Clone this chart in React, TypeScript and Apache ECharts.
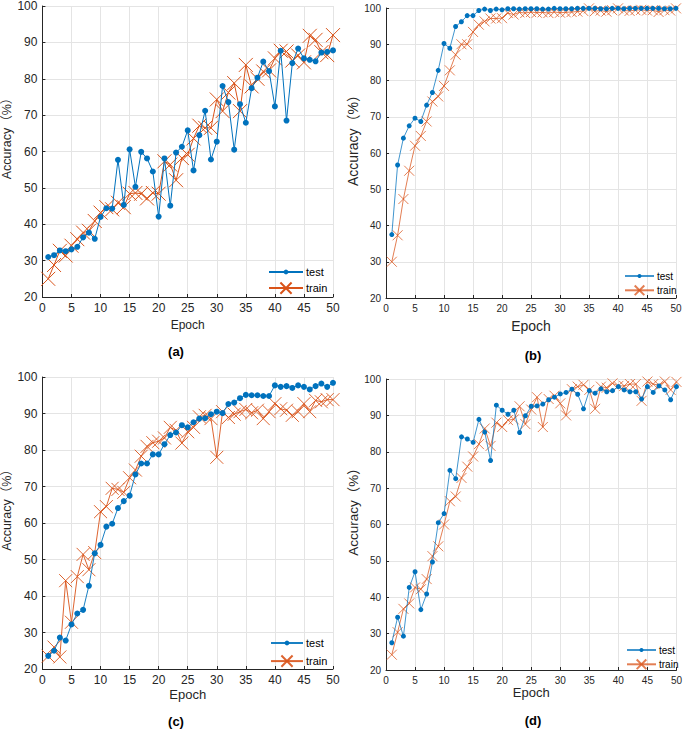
import React, { useEffect, useRef } from 'react';
import * as echarts from 'echarts';

const epochs = [1, 2, 3, 4, 5, 6, 7, 8, 9, 10, 11, 12, 13, 14, 15, 16, 17, 18, 19, 20, 21, 22, 23, 24, 25, 26, 27, 28, 29, 30, 31, 32, 33, 34, 35, 36, 37, 38, 39, 40, 41, 42, 43, 44, 45, 46, 47, 48, 49, 50];
const xTicks = { min: 0, max: 50, interval: 5 };
const yTicks = { min: 20, max: 100, interval: 10 };

const testA = [31.0, 31.5, 32.8, 32.6, 33.1, 33.8, 36.4, 37.7, 36.0, 42.0, 44.4, 44.3, 57.7, 45.3, 60.6, 50.3, 59.9, 58.1, 54.5, 42.1, 58.1, 45.1, 59.7, 61.3, 65.8, 54.8, 64.5, 71.2, 57.8, 62.7, 78.0, 73.6, 60.5, 73.0, 67.9, 77.4, 80.3, 84.7, 82.1, 72.4, 87.7, 68.5, 84.3, 88.3, 85.6, 85.2, 84.8, 87.2, 87.4, 87.8];
const trainA = [25.0, 28.8, 32.7, 31.4, 34.1, 35.9, 37.7, 38.2, 40.9, 43.2, 44.7, 44.1, 45.9, 44.7, 48.4, 48.6, 48.4, 47.1, 48.6, 48.4, 57.3, 56.4, 52.1, 58.2, 59.1, 63.6, 67.1, 66.5, 66.5, 74.3, 71.1, 76.2, 78.8, 71.1, 83.8, 77.9, 80.0, 82.0, 82.3, 85.6, 87.7, 87.5, 85.0, 86.4, 84.5, 91.8, 90.7, 87.3, 86.5, 92.0];

const testB = [37.5, 56.7, 64.1, 67.5, 69.6, 68.7, 73.2, 76.7, 82.8, 90.2, 88.9, 94.9, 96.2, 97.9, 97.9, 99.3, 99.7, 99.3, 99.7, 99.5, 99.8, 99.8, 99.7, 99.8, 99.8, 99.8, 99.7, 99.7, 99.9, 99.8, 99.8, 99.8, 99.9, 99.9, 99.9, 99.9, 99.8, 99.8, 99.9, 99.9, 99.8, 99.9, 99.9, 99.9, 99.9, 99.9, 99.9, 99.8, 99.8, 99.9];
const trainB = [30.0, 37.3, 47.3, 55.1, 62.0, 64.7, 68.7, 74.2, 75.6, 78.5, 82.8, 87.1, 90.0, 90.0, 93.4, 95.4, 96.3, 97.1, 97.1, 97.2, 98.6, 98.2, 98.8, 98.6, 98.9, 98.7, 98.8, 98.6, 98.9, 98.7, 98.8, 98.9, 99.0, 99.2, 99.9, 99.1, 99.3, 99.0, 99.4, 99.9, 99.3, 99.2, 99.4, 99.5, 99.3, 99.4, 98.9, 99.4, 99.3, 99.9];

const testC = [23.6, 25.0, 28.6, 27.8, 32.2, 35.2, 36.2, 42.8, 51.7, 54.0, 59.0, 59.8, 64.1, 66.0, 67.5, 73.3, 76.3, 76.3, 78.8, 78.8, 81.6, 84.1, 84.8, 86.8, 86.2, 87.6, 88.6, 88.7, 89.8, 90.5, 90.1, 92.6, 93.0, 94.2, 95.1, 95.0, 95.0, 94.8, 94.8, 97.7, 97.3, 97.5, 97.0, 97.7, 97.3, 96.6, 97.5, 98.2, 97.3, 98.4];
const trainC = [23.5, 26.0, 23.3, 44.2, 32.8, 45.3, 51.4, 47.2, 51.9, 63.1, 64.5, 69.5, 69.2, 68.4, 72.4, 74.5, 78.3, 81.0, 82.0, 82.4, 83.3, 86.2, 85.4, 81.9, 85.0, 86.2, 89.1, 89.5, 88.6, 78.0, 90.5, 88.9, 89.8, 90.5, 91.1, 90.2, 90.9, 88.6, 90.5, 92.7, 91.3, 90.9, 89.5, 90.5, 92.7, 90.5, 93.6, 93.2, 93.8, 93.8];

const testD = [27.5, 34.5, 29.3, 42.7, 47.0, 36.6, 40.9, 49.7, 60.5, 63.0, 74.9, 72.6, 84.1, 83.5, 82.6, 88.9, 85.4, 77.6, 92.8, 91.4, 90.3, 91.4, 85.3, 89.9, 92.5, 92.6, 93.1, 94.3, 95.0, 95.9, 96.3, 97.2, 95.8, 91.8, 96.8, 96.1, 97.3, 96.5, 96.8, 97.9, 97.0, 96.5, 96.5, 94.5, 97.9, 96.3, 98.1, 97.0, 94.3, 97.9];
const trainD = [24.2, 30.4, 36.8, 38.3, 42.7, 42.2, 45.0, 51.3, 54.0, 60.0, 66.4, 67.7, 72.8, 75.9, 78.7, 82.1, 86.4, 81.6, 88.0, 86.8, 88.7, 88.9, 92.5, 87.6, 91.6, 95.0, 86.8, 94.5, 95.4, 93.3, 90.0, 97.2, 97.9, 98.4, 97.0, 91.8, 97.9, 97.6, 98.8, 98.1, 98.1, 98.6, 98.6, 94.0, 99.3, 98.6, 98.3, 99.3, 97.0, 99.2];

const panelLabels = ['(a)', '(b)', '(c)', '(d)'];
const legendNames = ['test', 'train'];
const xName = 'Epoch';
const yName = 'Accuracy（%）';

const FONT = '"Liberation Sans", Arial, Helvetica, "Noto Sans CJK SC", sans-serif';
const BLUE = '#0072BD';
const ORANGE = '#D95319';
const CROSS = 'path://M0,0L10,10M10,0L0,10';

const layouts = [
  { grid: { left: 39, top: 3, width: 294, height: 294 }, tick: 12, xNameSize: 12, yNameSize: 12.5, xGap: 22, yGap: 25, dot: 6, cross: 14, op: 1,
    lg: { left: 268, w: 34, font: 11, tTop: 266.5, rTop: 280, rH: 14 }, lab: [176, 351] },
  { grid: { left: 386, top: 8, width: 290, height: 290 }, tick: 10, xNameSize: 14, yNameSize: 14, xGap: 21, yGap: 20, dot: 5, cross: 10, op: 0.75,
    lg: { left: 624, w: 29, font: 10, tTop: 271, rTop: 283, rH: 12 }, lab: [533, 355] },
  { grid: { left: 39, top: 377, width: 294, height: 292 }, tick: 12, xNameSize: 13, yNameSize: 12.5, xGap: 19, yGap: 25, dot: 6, cross: 13, op: 0.9,
    lg: { left: 270, w: 32, font: 11, tTop: 637.5, rTop: 653, rH: 14 }, lab: [176, 721] },
  { grid: { left: 386, top: 379, width: 293, height: 291 }, tick: 10, xNameSize: 13, yNameSize: 13.5, xGap: 14, yGap: 20, dot: 5, cross: 10, op: 0.75,
    lg: { left: 626, w: 29, font: 10, tTop: 645, rTop: 657, rH: 12 }, lab: [533, 720] },
];

const seriesData = [
  [testA, trainA],
  [testB, trainB],
  [testC, trainC],
  [testD, trainD],
];

export default function App() {
  const ref = useRef<HTMLDivElement>(null);
  useEffect(() => {
    if (!ref.current) return;
    const chart = echarts.init(ref.current, null, { renderer: 'svg' });
    const grid: any[] = [];
    const xAxis: any[] = [];
    const yAxis: any[] = [];
    const series: any[] = [];
    const legend: any[] = [];
    const graphic: any[] = [];
    layouts.forEach((L, i) => {
      grid.push({ ...L.grid, containLabel: false });
      const pad = ' '.repeat(i);
      const tName = legendNames[0] + pad;
      const rName = legendNames[1] + pad;
      xAxis.push({
        type: 'value', gridIndex: i, ...xTicks,
        name: xName, nameLocation: 'middle', nameGap: L.xGap,
        nameTextStyle: { fontFamily: FONT, fontSize: L.xNameSize, color: '#262626' },
        axisLine: { show: true, onZero: false, lineStyle: { color: '#262626', width: 1 } },
        axisTick: { show: true, inside: true, length: 3, lineStyle: { color: '#262626' } },
        axisLabel: { fontFamily: FONT, fontSize: L.tick, color: '#262626', margin: 5 },
        splitLine: { show: true, lineStyle: { color: '#e4e4e4', width: 1 } },
      });
      yAxis.push({
        type: 'value', gridIndex: i, ...yTicks,
        name: yName, nameLocation: 'middle', nameGap: L.yGap, nameRotate: 90,
        nameTextStyle: { fontFamily: FONT, fontSize: L.yNameSize, color: '#262626', padding: [0, 0, 0, 32] },
        axisLine: { show: true, lineStyle: { color: '#262626', width: 1 } },
        axisTick: { show: true, inside: true, length: 3, lineStyle: { color: '#262626' } },
        axisLabel: { fontFamily: FONT, fontSize: L.tick, color: '#262626', margin: 5 },
        splitLine: { show: true, lineStyle: { color: '#e4e4e4', width: 1 } },
      });
      const [tv, rv] = seriesData[i];
      series.push({
        type: 'line', name: tName, xAxisIndex: i, yAxisIndex: i,
        data: epochs.map((e, k) => [e, tv[k]]),
        symbol: 'circle', symbolSize: L.dot, showSymbol: true,
        lineStyle: { color: BLUE, width: 1, opacity: L.op },
        itemStyle: { color: BLUE, borderWidth: 0 },
        z: 3,
      });
      series.push({
        type: 'line', name: rName, xAxisIndex: i, yAxisIndex: i,
        data: epochs.map((e, k) => [e, rv[k]]),
        symbol: CROSS, symbolSize: L.cross, showSymbol: true,
        lineStyle: { color: ORANGE, width: 1, opacity: L.op },
        itemStyle: { color: 'none', borderColor: ORANGE, borderWidth: 1, opacity: L.op },
        z: 2,
      });
      const lgBase = {
        orient: 'vertical', left: L.lg.left, itemWidth: L.lg.w, itemGap: 0, padding: 0,
        formatter: (n: string) => n.trim(), selectedMode: false,
        textStyle: { fontFamily: FONT, fontSize: L.lg.font, color: '#000', padding: [0, 0, 0, -2] },
      };
      legend.push({ ...lgBase, data: [tName], top: L.lg.tTop, itemHeight: L.dot });
      legend.push({ ...lgBase, data: [rName], top: L.lg.rTop, itemHeight: L.lg.rH });
      graphic.push({
        type: 'text', x: L.lab[0], y: L.lab[1],
        style: { text: panelLabels[i], fontFamily: FONT, fontSize: 13, fontWeight: 'bold', fill: '#000', textAlign: 'center', textVerticalAlign: 'middle' },
      });
    });
    chart.setOption({
      animation: false,
      backgroundColor: '#fff',
      grid, xAxis, yAxis, series, legend, graphic,
    });
    return () => chart.dispose();
  }, []);
  return <div ref={ref} style={{ position: 'fixed', left: 0, top: 0, width: 685, height: 731 }} />;
}
